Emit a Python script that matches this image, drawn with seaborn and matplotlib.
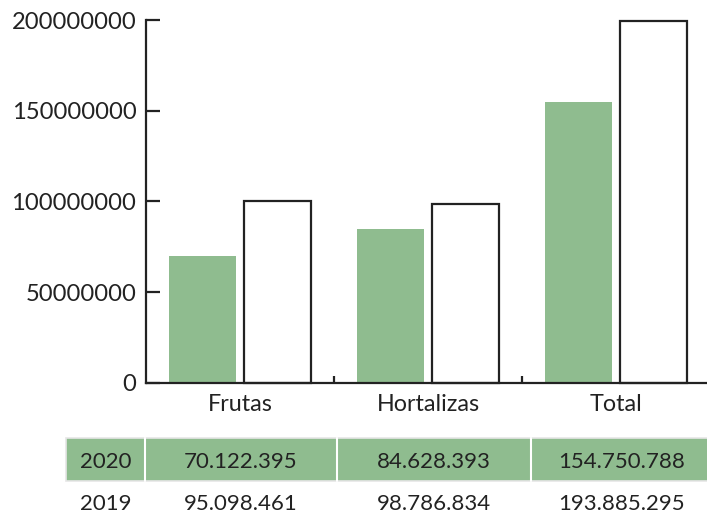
import matplotlib
matplotlib.use("Agg")
import matplotlib.pyplot as plt
from matplotlib.patches import Rectangle
from matplotlib.ticker import FixedLocator, FuncFormatter
import seaborn as sns
import pandas as pd

categories = ["Frutas", "Hortalizas", "Total"]
years = ["2020", "2019"]
values_2020 = [70122395, 84628393, 154750788]
values_2019 = [100400000, 98500000, 199600000]   # bar heights as drawn
table_2020 = ["70.122.395", "84.628.393", "154.750.788"]
table_2019 = ["95.098.461", "98.786.834", "193.885.295"]
yticks = [0, 50000000, 100000000, 150000000, 200000000]

GREEN = "#8fbc8f"
INK = "#222222"

sns.set_theme(style="white")
plt.rcParams["font.family"] = ["Lato", "DejaVu Sans"]

df = pd.DataFrame({
    "cat": categories * 2,
    "year": [years[0]] * 3 + [years[1]] * 3,
    "value": values_2020 + values_2019,
})

W, H = 707, 514
fig = plt.figure(figsize=(W / 100, H / 100), dpi=100)
ax = fig.add_axes([146 / W, 1 - 382.7 / H, 564 / W, (382.7 - 20) / H])

sns.barplot(data=df, x="cat", y="value", hue="year", hue_order=years,
            palette={"2020": GREEN, "2019": "white"}, width=0.8, gap=0.1,
            saturation=1, legend=False, ax=ax, errorbar=None)

for bar in ax.containers[0]:
    bar.set_linewidth(0)
for bar in ax.containers[1]:
    bar.set_edgecolor(INK)
    bar.set_linewidth(1.6)
    bar.set_clip_on(False)

ax.set_xlim(-0.5, 2.5)
ax.set_ylim(0, 200000000)
ax.set_xlabel("")
ax.set_ylabel("")
ax.yaxis.set_major_locator(FixedLocator(yticks))
ax.yaxis.set_major_formatter(FuncFormatter(lambda v, p: f"{int(round(v))}"))

for s in ["top", "right"]:
    ax.spines[s].set_visible(False)
for s in ["left", "bottom"]:
    ax.spines[s].set_color(INK)
    ax.spines[s].set_linewidth(1.6)

ax.tick_params(axis="y", direction="in", length=10, width=1.6, color=INK,
               labelsize=17.1, labelcolor=INK, pad=7, left=True)
ax.set_xticks([0, 1, 2])
ax.set_xticklabels(categories)
ax.tick_params(axis="x", which="major", length=0, labelsize=16.8, labelcolor=INK, pad=8)
ax.set_xticks([0.5, 1.5], minor=True)
ax.tick_params(axis="x", which="minor", direction="in", length=5, width=1.6,
               color=INK, bottom=True)

# table below the chart
def fx(x):
    return x / W

def fy(y):
    return 1 - y / H

top, mid = 438, 481
fig.patches.append(Rectangle((fx(66), fy(mid)), fx(720 - 66), (mid - top) / H,
                             transform=fig.transFigure, facecolor=GREEN,
                             edgecolor="#e6e6e6", linewidth=1.2))
for xs in [145, 337, 531]:
    fig.add_artist(plt.Line2D([fx(xs), fx(xs)], [fy(mid), fy(top)],
                              transform=fig.transFigure, color="white", linewidth=1.5))

col_centers = [105.5, 241, 434, 622]
row1 = [years[0]] + table_2020
row2 = [years[1]] + table_2019
for cx, t in zip(col_centers, row1):
    fig.text(fx(cx), fy(462), t, ha="center", va="center", fontsize=16, color=INK)
for cx, t in zip(col_centers, row2):
    fig.text(fx(cx), fy(504), t, ha="center", va="center", fontsize=16, color=INK)

fig.savefig("out.png", dpi=100)
